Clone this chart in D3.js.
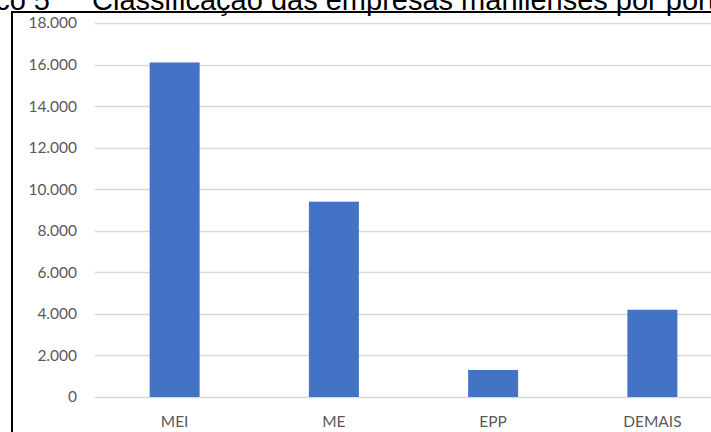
<!DOCTYPE html>
<html>
<head>
<meta charset="utf-8">
<script src="https://cdn.jsdelivr.net/npm/d3@7"></script>
<style>
  html, body { margin: 0; padding: 0; background: #fff; overflow: hidden; }
  svg { display: block; }
</style>
</head>
<body>
<svg id="chart" width="711" height="432"></svg>
<script>
// Porte das empresas e quantidade em cada categoria
const categories = ["MEI", "ME", "EPP", "DEMAIS"];
const values = [16100, 9400, 1300, 4200];
const yTicks = [0, 2000, 4000, 6000, 8000, 10000, 12000, 14000, 16000, 18000];
const captionPrefix = "Gráfico 5";
const captionText = "Classificação das empresas manilenses por porte";

const svg = d3.select("#chart");
const W = 711, H = 432;

// Moldura do gráfico
svg.append("rect")
  .attr("x", 12).attr("y", 12)
  .attr("width", W + 20).attr("height", H + 20)
  .attr("fill", "#fff")
  .attr("stroke", "#000")
  .attr("stroke-width", 2);

// Legenda da figura (parcialmente cortada no topo)
svg.append("text")
  .attr("x", 50).attr("y", 10)
  .attr("text-anchor", "end")
  .attr("font-family", "Liberation Sans, Arial, sans-serif")
  .attr("font-size", 29)
  .attr("fill", "#000")
  .text(captionPrefix);
svg.append("text")
  .attr("x", 92).attr("y", 10)
  .attr("font-family", "Liberation Sans, Arial, sans-serif")
  .attr("font-size", 29)
  .attr("fill", "#000")
  .text(captionText);

const plot = { left: 95, right: 732, top: 23, bottom: 397 };

const x = d3.scaleBand().domain(categories).range([plot.left, plot.right]).padding(0);
const y = d3.scaleLinear().domain([0, 18000]).range([plot.bottom, plot.top]);

const fmt = v => d3.format(",")(v).replace(/,/g, ".");

// Linhas de grade
svg.append("g")
  .selectAll("line")
  .data(yTicks)
  .join("line")
  .attr("x1", plot.left).attr("x2", W)
  .attr("y1", d => Math.round(y(d)) + 0.5)
  .attr("y2", d => Math.round(y(d)) + 0.5)
  .attr("stroke", "#d9d9d9")
  .attr("stroke-width", 1.5);

// Eixo Y
const yAxis = d3.axisLeft(y).tickValues(yTicks).tickFormat(fmt).tickSize(0).tickPadding(0);
const gy = svg.append("g").attr("transform", `translate(77,0)`).call(yAxis);
gy.select(".domain").remove();
gy.selectAll("text")
  .attr("font-family", "Lato, sans-serif")
  .attr("font-size", 15.5)
  .attr("fill", "#595959");

// Barras
const barFrac = 0.314;
svg.append("g")
  .selectAll("rect")
  .data(categories.map((c, i) => ({ c, v: values[i] })))
  .join("rect")
  .attr("x", d => x(d.c) + x.bandwidth() * (1 - barFrac) / 2)
  .attr("width", x.bandwidth() * barFrac)
  .attr("y", d => y(d.v))
  .attr("height", d => y(0) - y(d.v))
  .attr("fill", "#4472c4");

// Eixo X
const xAxis = d3.axisBottom(x).tickSize(0).tickPadding(0);
const gx = svg.append("g").attr("transform", `translate(0,${plot.bottom + 19})`).call(xAxis);
gx.select(".domain").remove();
gx.selectAll("text")
  .attr("font-family", "Lato, sans-serif")
  .attr("font-size", 15.5)
  .attr("fill", "#595959");
</script>
</body>
</html>
